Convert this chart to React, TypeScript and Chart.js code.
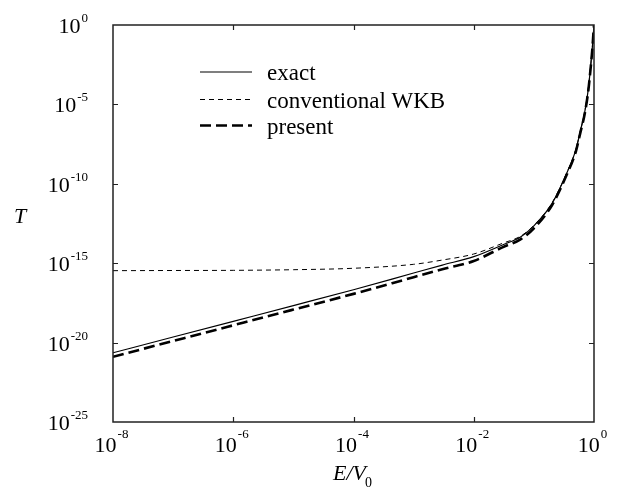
import React, { useEffect, useRef } from "react";
import { Chart, registerables } from "chart.js";

Chart.register(...registerables);

// E/V0 sample positions
const energies = [
  1e-8, 1e-7, 1e-6, 1e-5, 1e-4, 1e-3, 3e-3, 1e-2, 3e-2, 6e-2, 1e-1,
  0.2, 0.35, 0.5, 0.6, 0.7, 0.8, 0.88, 0.93, 0.965, 0.99, 1.0,
];

const exactT = [
  2.29e-21, 2.24e-20, 2.19e-19, 2.14e-18, 2.14e-17, 2.4e-16, 7.59e-16, 2.57e-15,
  1.41e-14, 4.47e-14, 2.24e-13, 5.62e-12, 4.47e-10, 1.41e-8, 2.51e-7, 3.16e-6,
  7.94e-5, 2.51e-3, 2.51e-2, 0.158, 0.631, 1,
];

const wkbT = [
  3.39e-16, 3.47e-16, 3.55e-16, 3.89e-16, 4.79e-16, 8.51e-16, 1.58e-15, 3.8e-15,
  1.78e-14, 5.01e-14, 2.4e-13, 6.31e-12, 4.68e-10, 1.48e-8, 2.63e-7, 3.31e-6,
  8.32e-5, 2.63e-3, 2.63e-2, 0.158, 0.631, 1,
];

const presentT = [
  1.29e-21, 1.26e-20, 1.23e-19, 1.2e-18, 1.17e-17, 1.32e-16, 4.17e-16, 1.38e-15,
  1.0e-14, 3.16e-14, 1.58e-13, 4.47e-12, 3.55e-10, 1.12e-8, 2.0e-7, 2.51e-6,
  6.31e-5, 2.0e-3, 2.0e-2, 0.141, 0.562, 1,
];

const xTickValues = [1e-8, 1e-6, 1e-4, 1e-2, 1];
const xTickExps = ["-8", "-6", "-4", "-2", "0"];
const yTickValues = [1, 1e-5, 1e-10, 1e-15, 1e-20, 1e-25];
const yTickExps = ["0", "-5", "-10", "-15", "-20", "-25"];

const seriesNames = ["exact", "conventional WKB", "present"];

const FONT = "'Liberation Serif', 'DejaVu Serif', serif";

const toPoints = (ys: number[]) => energies.map((e, i) => ({ x: e, y: ys[i] }));

const STYLES = [
  { width: 1.2, dash: [] as number[] },
  { width: 1.0, dash: [5, 4] },
  { width: 2.6, dash: [11, 5] },
];

const overlay = {
  id: "overlay",
  afterDraw(chart: any) {
    const { ctx, chartArea } = chart;
    const { left, right, top, bottom } = chartArea;
    const xs = chart.scales.x;
    const ys = chart.scales.y;
    ctx.save();

    // frame
    ctx.strokeStyle = "#222";
    ctx.lineWidth = 1.5;
    ctx.setLineDash([]);
    ctx.strokeRect(left, top, right - left, bottom - top);

    // ticks
    ctx.lineWidth = 1.2;
    const tl = 5;
    xTickValues.forEach((v) => {
      const px = Math.round(xs.getPixelForValue(v)) + 0.5;
      if (px > left + 2 && px < right - 2) {
        ctx.beginPath();
        ctx.moveTo(px, bottom);
        ctx.lineTo(px, bottom - tl);
        ctx.moveTo(px, top);
        ctx.lineTo(px, top + tl);
        ctx.stroke();
      }
    });
    yTickValues.forEach((v) => {
      const py = Math.round(ys.getPixelForValue(v)) + 0.5;
      if (py > top + 2 && py < bottom - 2) {
        ctx.beginPath();
        ctx.moveTo(left, py);
        ctx.lineTo(left + tl, py);
        ctx.moveTo(right, py);
        ctx.lineTo(right - tl, py);
        ctx.stroke();
      }
    });

    ctx.fillStyle = "#000";
    ctx.textBaseline = "alphabetic";
    ctx.textAlign = "left";

    const mainF = `22px ${FONT}`;
    const supF = `13px ${FONT}`;

    // x tick labels
    xTickValues.forEach((v, i) => {
      const px = xs.getPixelForValue(v);
      ctx.font = mainF;
      const w1 = ctx.measureText("10").width;
      ctx.font = supF;
      const w2 = ctx.measureText(xTickExps[i]).width;
      const x0 = px - (w1 + w2) / 2 - 2;
      ctx.font = mainF;
      ctx.fillText("10", x0, bottom + 30);
      ctx.font = supF;
      ctx.fillText(xTickExps[i], x0 + w1 + 1, bottom + 16);
    });

    // y tick labels (right aligned)
    yTickValues.forEach((v, i) => {
      const py = ys.getPixelForValue(v);
      ctx.font = supF;
      const w2 = ctx.measureText(yTickExps[i]).width;
      ctx.font = mainF;
      const w1 = ctx.measureText("10").width;
      const xr = left - 25;
      ctx.fillText("10", xr - w2 - w1 - 1, py + 8);
      ctx.font = supF;
      ctx.fillText(yTickExps[i], xr - w2, py - 3);
    });

    // axis titles
    ctx.font = `italic 22px ${FONT}`;
    ctx.fillText("T", 14, 223);
    const ex = 333;
    ctx.fillText("E/V", ex, 480);
    const wev = ctx.measureText("E/V").width;
    ctx.font = `14px ${FONT}`;
    ctx.fillText("0", ex + wev - 1, 487);

    // legend
    const rows = [72, 99.5, 125.5];
    rows.forEach((yy, i) => {
      ctx.strokeStyle = "#000";
      ctx.lineWidth = STYLES[i].width;
      ctx.setLineDash(STYLES[i].dash);
      ctx.beginPath();
      ctx.moveTo(200, yy);
      ctx.lineTo(252, yy);
      ctx.stroke();
      ctx.setLineDash([]);
      ctx.font = `23px ${FONT}`;
      ctx.fillText(seriesNames[i], 267, yy + 8);
    });

    ctx.restore();
  },
};

export default function App() {
  const ref = useRef<HTMLCanvasElement | null>(null);

  useEffect(() => {
    if (!ref.current) return;
    const chart = new Chart(ref.current, {
      type: "line",
      data: {
        datasets: [
          {
            label: seriesNames[1],
            data: toPoints(wkbT),
            borderColor: "#000",
            borderWidth: STYLES[1].width,
            borderDash: STYLES[1].dash,
            pointRadius: 0,
            cubicInterpolationMode: "monotone",
            fill: false,
          },
          {
            label: seriesNames[0],
            data: toPoints(exactT),
            borderColor: "#000",
            borderWidth: STYLES[0].width,
            pointRadius: 0,
            cubicInterpolationMode: "monotone",
            fill: false,
          },
          {
            label: seriesNames[2],
            data: toPoints(presentT),
            borderColor: "#000",
            borderWidth: STYLES[2].width,
            borderDash: STYLES[2].dash,
            pointRadius: 0,
            cubicInterpolationMode: "monotone",
            fill: false,
          },
        ],
      },
      options: {
        animation: false,
        responsive: false,
        devicePixelRatio: 1,
        layout: { padding: { left: 113, top: 25, right: 29, bottom: 67 } },
        plugins: { legend: { display: false }, tooltip: { enabled: false } },
        scales: {
          x: { type: "logarithmic", min: 1e-8, max: 1, display: false },
          y: { type: "logarithmic", min: 1e-25, max: 1, display: false },
        },
      },
      plugins: [overlay],
    });
    return () => chart.destroy();
  }, []);

  return (
    <div style={{ position: "fixed", left: 0, top: 0, width: 623, height: 489, background: "#fff" }}>
      <canvas ref={ref} width={623} height={489} style={{ width: 623, height: 489 }} />
    </div>
  );
}
